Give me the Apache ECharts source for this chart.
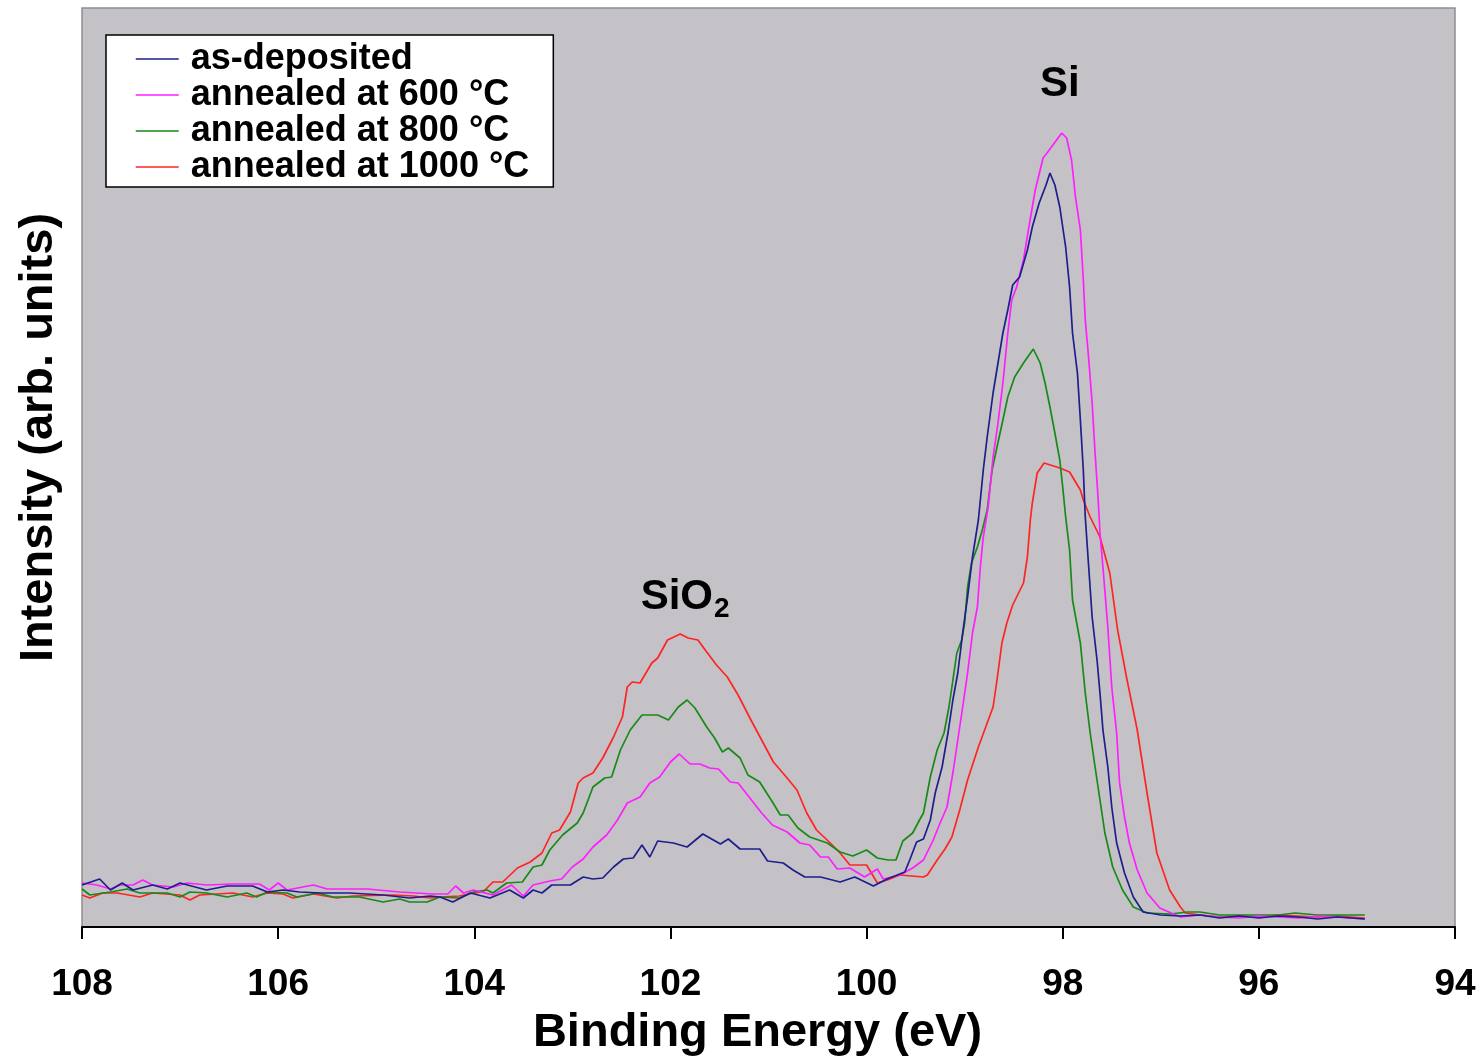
<!DOCTYPE html>
<html>
<head>
<meta charset="utf-8">
<script src="https://cdn.jsdelivr.net/npm/echarts@6/dist/echarts.min.js"></script>
<style>
html,body{margin:0;padding:0;background:#fff;}
#c{width:1483px;height:1060px;}
</style>
</head>
<body>
<div id="c"></div>
<script>
// Binding energy (eV) vs intensity (arb. units)
var xTicks = [94, 96, 98, 100, 102, 104, 106, 108];
var seriesNames = ['as-deposited', 'annealed at 600 °C', 'annealed at 800 °C', 'annealed at 1000 °C'];
var seriesColors = ['#1E1E8C', '#FF1EFF', '#178A17', '#FF2424'];

var asDeposited = [
[108.0,42],[107.82,48],[107.71,37],[107.59,44],[107.48,37],[107.28,42],[107.13,38],[107.0,44],[106.73,37],[106.52,41],
[106.26,41],[106.11,35],[105.95,37],[105.78,35],[105.57,34],[105.27,34],[104.93,32],[104.66,29],[104.45,31],[104.35,30],
[104.22,25],[104.04,34],[103.84,29],[103.64,37],[103.5,29],[103.4,37],[103.31,34],[103.21,42],[103.02,42],[102.89,50],
[102.79,48],[102.69,49],[102.58,60],[102.48,68],[102.38,69],[102.29,82],[102.21,70],[102.13,86],[101.97,84],[101.83,80],
[101.67,93],[101.49,83],[101.41,88],[101.29,78],[101.09,78],[101.01,66],[100.85,64],[100.75,57],[100.63,50],[100.47,50],
[100.27,45],[100.12,50],[99.93,41],[99.79,48],[99.61,55],[99.56,67],[99.49,85],[99.42,88],[99.35,107],[99.3,134],
[99.23,160],[99.17,194],[99.12,227],[99.07,254],[99.02,294],[98.97,330],[98.92,370],[98.86,407],[98.81,457],[98.77,490],
[98.71,534],[98.66,564],[98.61,594],[98.56,617],[98.51,642],[98.44,650],[98.36,677],[98.31,700],[98.24,724],[98.17,742],
[98.13,754],[98.08,742],[98.03,720],[97.97,680],[97.93,640],[97.9,594],[97.85,554],[97.82,507],[97.79,457],[97.77,410],
[97.74,367],[97.7,310],[97.65,267],[97.62,234],[97.59,197],[97.54,160],[97.5,120],[97.45,84],[97.37,54],[97.28,30],
[97.18,15],[97.0,12],[96.8,11],[96.6,12],[96.4,9],[96.2,11],[96.0,9],[95.8,11],[95.6,10],[95.4,8],[95.2,10],[94.92,8]
];

var annealed600 = [
[108.0,44],[107.85,42],[107.71,38],[107.61,42],[107.48,42],[107.38,47],[107.28,42],[107.07,40],[106.93,44],[106.73,42],
[106.46,43],[106.19,43],[106.09,37],[106.0,44],[105.91,37],[105.64,42],[105.5,38],[105.09,38],[104.76,35],[104.42,33],
[104.27,33],[104.19,41],[104.11,34],[104.01,37],[103.81,32],[103.62,42],[103.5,31],[103.4,42],[103.23,46],[103.11,48],
[103.0,60],[102.89,68],[102.79,80],[102.65,92],[102.54,107],[102.44,124],[102.31,130],[102.21,144],[102.11,150],[102.0,165],
[101.91,173],[101.8,163],[101.7,163],[101.6,159],[101.51,158],[101.39,145],[101.31,144],[101.19,129],[101.07,114],[100.96,102],
[100.81,95],[100.68,84],[100.58,82],[100.47,70],[100.39,70],[100.3,58],[100.17,59],[100.02,50],[99.89,58],[99.83,48],
[99.66,52],[99.53,59],[99.42,67],[99.32,87],[99.25,104],[99.18,120],[99.12,154],[99.07,187],[99.02,220],[98.97,254],
[98.92,294],[98.87,320],[98.84,360],[98.81,390],[98.76,420],[98.71,470],[98.66,504],[98.61,544],[98.56,594],[98.52,627],
[98.47,640],[98.4,667],[98.35,697],[98.28,737],[98.25,749],[98.2,769],[98.16,774],[98.1,782],[98.01,794],[97.96,789],
[97.91,767],[97.87,730],[97.82,697],[97.79,647],[97.77,607],[97.74,574],[97.7,524],[97.67,474],[97.64,430],[97.62,394],
[97.59,360],[97.54,300],[97.5,240],[97.45,194],[97.42,144],[97.37,110],[97.32,84],[97.24,57],[97.14,34],[97.01,19],
[96.8,10],[96.6,12],[96.4,10],[96.2,9],[96.0,11],[95.8,10],[95.6,9],[95.4,11],[95.2,10],[94.92,8]
];

var annealed800 = [
[108.0,38],[107.92,32],[107.71,35],[107.54,38],[107.41,34],[107.13,34],[107.0,30],[106.9,35],[106.73,34],[106.52,30],
[106.32,34],[106.22,30],[106.11,35],[105.91,34],[105.81,30],[105.6,34],[105.44,30],[105.17,30],[104.93,25],[104.76,28],
[104.66,25],[104.48,25],[104.35,30],[104.15,29],[104.01,35],[103.87,37],[103.81,34],[103.67,44],[103.51,45],[103.4,60],
[103.31,62],[103.23,77],[103.1,92],[102.95,104],[102.89,114],[102.79,140],[102.67,149],[102.6,150],[102.51,177],[102.41,197],
[102.29,212],[102.13,212],[102.02,207],[101.92,220],[101.83,227],[101.75,219],[101.63,200],[101.55,189],[101.47,175],[101.41,179],
[101.29,169],[101.21,152],[101.09,145],[100.96,125],[100.88,112],[100.8,112],[100.7,99],[100.58,90],[100.4,84],[100.27,75],
[100.14,71],[100.0,77],[99.89,69],[99.78,67],[99.7,67],[99.63,86],[99.53,94],[99.46,107],[99.42,114],[99.35,150],
[99.28,177],[99.21,194],[99.16,220],[99.13,240],[99.08,274],[99.03,287],[99.0,304],[98.97,340],[98.93,364],[98.87,380],
[98.82,397],[98.77,417],[98.72,457],[98.67,480],[98.61,507],[98.56,530],[98.49,550],[98.4,564],[98.3,578],[98.23,564],
[98.18,544],[98.13,520],[98.08,494],[98.03,467],[98.0,440],[97.97,410],[97.93,377],[97.9,327],[97.82,284],[97.77,234],
[97.72,194],[97.67,160],[97.62,127],[97.57,94],[97.49,60],[97.39,37],[97.28,20],[97.14,14],[96.9,13],[96.73,15],
[96.6,15],[96.4,12],[96.2,12],[96.0,12],[95.8,12],[95.63,14],[95.4,12],[95.2,12],[94.92,12]
];

var annealed1000 = [
[108.0,32],[107.92,29],[107.79,34],[107.64,34],[107.41,30],[107.28,34],[107.0,32],[106.9,27],[106.8,32],[106.46,34],
[106.26,30],[106.11,34],[105.95,33],[105.85,29],[105.64,33],[105.4,29],[105.24,31],[104.83,32],[104.62,31],[104.45,29],
[104.35,30],[104.15,31],[104.01,34],[103.91,35],[103.81,45],[103.71,45],[103.56,59],[103.43,65],[103.31,74],[103.21,94],
[103.13,97],[103.02,115],[102.94,144],[102.89,149],[102.79,154],[102.69,169],[102.58,190],[102.49,210],[102.44,240],[102.39,245],
[102.31,244],[102.19,264],[102.13,269],[102.03,287],[101.9,293],[101.82,289],[101.72,287],[101.63,275],[101.53,262],[101.42,250],
[101.31,232],[101.19,209],[101.07,187],[100.95,165],[100.81,149],[100.71,137],[100.61,114],[100.51,97],[100.37,84],[100.27,74],
[100.17,62],[100.0,62],[99.89,44],[99.79,47],[99.66,52],[99.42,50],[99.38,52],[99.28,67],[99.2,78],[99.13,90],
[99.05,117],[98.97,147],[98.86,180],[98.77,204],[98.71,220],[98.67,247],[98.62,284],[98.57,304],[98.51,322],[98.4,344],
[98.36,370],[98.33,407],[98.31,424],[98.26,454],[98.19,464],[98.03,459],[97.93,455],[97.82,437],[97.79,427],[97.72,410],
[97.62,390],[97.52,354],[97.44,297],[97.35,250],[97.24,197],[97.14,134],[97.04,74],[96.91,37],[96.8,20],[96.75,14],
[96.6,12],[96.4,10],[96.2,11],[96.0,10],[95.8,12],[95.6,11],[95.4,10],[95.2,11],[94.92,9]
];

var seriesData = [asDeposited, annealed600, annealed800, annealed1000];
var peakLabels = [
  {name: 'Si', coord: [98.03, 843], text: '{a|Si}'},
  {name: 'SiO2', coord: [101.85, 330], text: '{a|SiO}{b|2}'}
];

var FONT = '"Liberation Sans", Arial, sans-serif';
var chart = echarts.init(document.getElementById('c'), null, {renderer: 'canvas'});

var series = seriesNames.map(function (n, i) {
  var s = {
    name: n,
    type: 'line',
    data: seriesData[i],
    symbol: 'none',
    showSymbol: false,
    smooth: false,
    lineStyle: {color: seriesColors[i], width: 1.7},
    itemStyle: {color: seriesColors[i]},
    emphasis: {disabled: true},
    z: 2 + (3 - i)
  };
  if (i === 0) {
    s.markPoint = {
      symbol: 'circle',
      symbolSize: 1,
      itemStyle: {color: 'rgba(0,0,0,0)'},
      label: {
        show: true,
        position: 'inside',
        color: '#000',
        rich: {
          a: {fontFamily: FONT, fontWeight: 'bold', fontSize: 42, color: '#000'},
          b: {fontFamily: FONT, fontWeight: 'bold', fontSize: 28, color: '#000', padding: [24, 0, 0, 1]}
        }
      },
      data: peakLabels.map(function (p) {
        return {name: p.name, coord: p.coord, label: {formatter: p.text}};
      })
    };
  }
  return s;
});

chart.setOption({
  animation: false,
  backgroundColor: '#ffffff',
  grid: {
    left: 82, right: 28, top: 8, bottom: 133,
    containLabel: false,
    outerBoundsMode: 'none',
    show: true,
    backgroundColor: '#C4C2C6',
    borderColor: '#8E8E8E',
    borderWidth: 1.5
  },
  legend: {
    data: seriesNames,
    orient: 'vertical',
    left: 106,
    top: 35,
    padding: [6, 24, 2, 29],
    itemGap: 0,
    itemWidth: 43,
    itemHeight: 14,
    backgroundColor: '#ffffff',
    borderColor: '#000000',
    borderWidth: 1.5,
    selectedMode: false,
    itemStyle: {opacity: 0},
    lineStyle: {width: 1.5},
    textStyle: {
      fontFamily: FONT, fontWeight: 'bold', fontSize: 36, color: '#000',
      lineHeight: 35.5, padding: [0, 0, 0, 7]
    }
  },
  xAxis: {
    type: 'value',
    min: 94,
    max: 108,
    interval: 2,
    inverse: true,
    position: 'bottom',
    name: 'Binding Energy (eV)',
    nameLocation: 'middle',
    nameGap: 83,
    nameTextStyle: {fontFamily: FONT, fontWeight: 'bold', fontSize: 47, color: '#000', padding: [0, 22, 0, 0]},
    axisLine: {show: true, onZero: false, lineStyle: {color: '#000', width: 2}},
    axisTick: {show: true, inside: false, length: 12, lineStyle: {color: '#000', width: 2}},
    axisLabel: {
      fontFamily: FONT, fontWeight: 'bold', fontSize: 37, color: '#000', margin: 39,
      formatter: function (v) { return xTicks.indexOf(v) >= 0 ? String(v) : ''; }
    },
    splitLine: {show: false}
  },
  yAxis: {
    type: 'value',
    min: 0,
    max: 919,
    name: 'Intensity (arb. units)',
    nameLocation: 'middle',
    nameGap: 19,
    nameTextStyle: {fontFamily: FONT, fontWeight: 'bold', fontSize: 47, color: '#000', padding: [0, 0, 0, 60]},
    axisLine: {show: false},
    axisTick: {show: false},
    axisLabel: {show: false},
    splitLine: {show: false}
  },
  series: series
});
</script>
</body>
</html>
